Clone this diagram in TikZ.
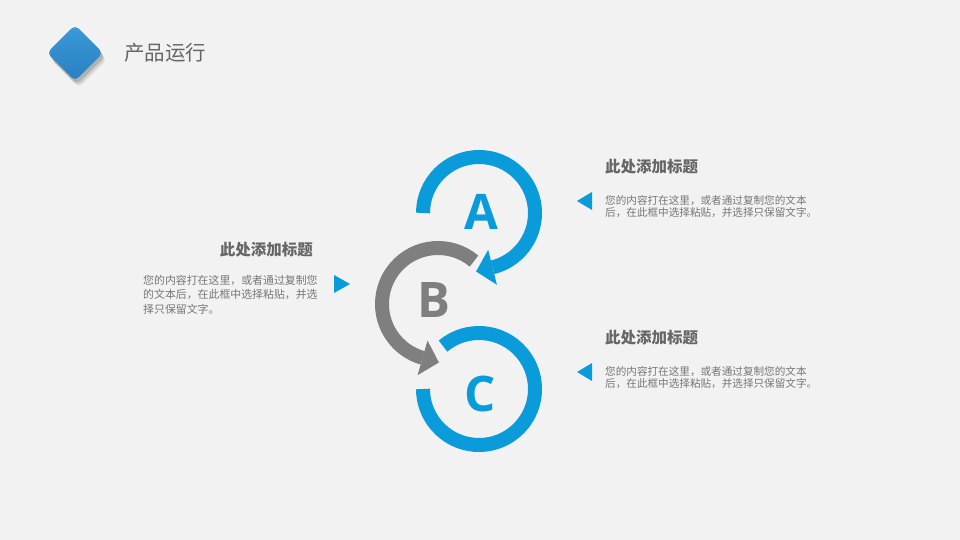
\documentclass[tikz,border=0pt]{standalone}
\usepackage{fontspec}
\setmainfont{Open Sans}
\newfontfamily\cjk{Noto Sans CJK SC}
\usetikzlibrary{calc}
\definecolor{bg}{HTML}{F2F2F2}
\definecolor{myblue}{HTML}{0A9BDB}
\definecolor{mygray}{HTML}{7F7F7F}
\definecolor{headc}{HTML}{666666}
\definecolor{bodyc}{HTML}{767676}
\definecolor{dia1}{HTML}{3A9AD9}
\definecolor{dia2}{HTML}{2A7FBF}
\tikzset{
  ring/.style={line width=14pt},
  letter/.style={font=\fontsize{49}{49}\selectfont\bfseries, inner sep=0},
  headtxt/.style={font=\cjk\fontsize{15.5}{18}\selectfont\bfseries, text=headc, inner sep=0},
  bodytxt/.style={font=\cjk\fontsize{10.6}{12.8}\selectfont, text=bodyc, inner sep=0, align=left},
  pointer/.style={fill=myblue, draw=none},
}
\begin{document}
\begin{tikzpicture}[x=1pt,y=1pt]
\fill[bg] (0,0) rectangle (960,540);
\useasboundingbox (0,0) rectangle (960,540);
% header diamond with shadow
\foreach \o/\op in {7/0.04,6/0.05,5/0.06,4/0.07,3/0.08}{
  \fill[black,opacity=\op,rounded corners=5pt] (75+\o*0.6,487-\o) ++(0,28) -- ++(-28,-28) -- ++(28,-28) -- ++(28,28) -- cycle;
}
\shade[top color=dia1,bottom color=dia2,rounded corners=5pt] (75,487) ++(0,28) -- ++(-28,-28) -- ++(28,-28) -- ++(28,28) -- cycle;
\node[anchor=west, inner sep=0, font=\cjk\fontsize{20.5}{24}\selectfont, text=headc] (title) at (124,487) {产品运行};

% ring centres
\coordinate (cA) at (479,327);
\coordinate (cB) at (438,236);
\coordinate (cC) at (479,151);

% ring A (blue)
\draw[myblue,ring] ($(cA)+(180:56)$) arc[start angle=180,end angle=-76,radius=56];
\fill[myblue] ($(cA)+(-76:38)$) -- ($(cA)+(-76:74)$) -- ($(cA)+(-76:56)+(-166:17)$) -- cycle;
% ring B (gray)
\draw[mygray,ring] ($(cB)+(50:56)$) arc[start angle=50,end angle=254,radius=56];
\fill[mygray] ($(cB)+(254:38)$) -- ($(cB)+(254:74)$) -- ($(cB)+(254:56)+(344:17)$) -- cycle;
% ring C (blue)
\draw[myblue,ring] ($(cC)+(130:56)$) arc[start angle=130,end angle=-180,radius=56];

\node[letter,text=myblue] (A) at (481,328) {A};
\node[letter,text=mygray] (B) at (434,240) {B};
\node[letter,text=myblue] (C) at (480,146) {C};

% right texts
\node[headtxt,anchor=west] (h1) at (605,373) {此处添加标题};
\node[bodytxt,anchor=north west] (b1) at (605,345) {您的内容打在这里，或者通过复制您的文本\\后，在此框中选择粘贴，并选择只保留文字。};
\node[headtxt,anchor=west] (h3) at (605,202) {此处添加标题};
\node[bodytxt,anchor=north west] (b3) at (605,174) {您的内容打在这里，或者通过复制您的文本\\后，在此框中选择粘贴，并选择只保留文字。};
% left texts
\node[headtxt,anchor=east] (h2) at (313,290) {此处添加标题};
\node[bodytxt,anchor=north west,font=\cjk\fontsize{10.9}{14.5}\selectfont] (b2) at (143,265) {您的内容打在这里，或者通过复制您\\的文本后，在此框中选择粘贴，并选\\择只保留文字。};

% pointers
\fill[pointer] (577,339) -- (592,348) -- (592,330) -- cycle;
\fill[pointer] (577,168) -- (592,177) -- (592,159) -- cycle;
\fill[pointer] (350,256) -- (334,265) -- (334,247) -- cycle;
\end{tikzpicture}
\end{document}
